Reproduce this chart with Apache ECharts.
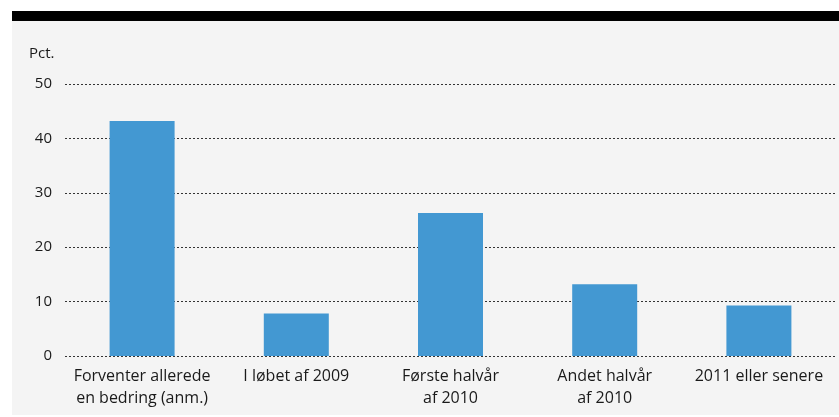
<!DOCTYPE html>
<html>
<head>
<meta charset="utf-8">
<script src="https://cdn.jsdelivr.net/npm/echarts@6/dist/echarts.min.js"></script>
<style>
  html, body { margin: 0; padding: 0; background: #fff; }
  #chart { width: 839px; height: 417px; }
</style>
</head>
<body>
<div id="chart"></div>
<script>
// data
var categories = ['Forventer allerede\nen bedring (anm.)', 'I løbet af 2009', 'Første halvår\naf 2010', 'Andet halvår\naf 2010', '2011 eller senere'];
var values = [43.2, 7.8, 26.3, 13.2, 9.3];
var yTicks = { min: 0, max: 50, interval: 10 };

var font = '"Open Sans", "Noto Sans", sans-serif';
var chart = echarts.init(document.getElementById('chart'));
chart.setOption({
    backgroundColor: '#fff',
    animation: false,
    graphic: [
        { type: 'rect', left: 12, top: 11, shape: { width: 827, height: 404 }, style: { fill: '#f4f4f4' }, z: -10 },
        { type: 'rect', left: 12, top: 11, shape: { width: 827, height: 10 }, style: { fill: '#000' }, z: -9 }
    ],
    title: {
        text: 'Pct.',
        left: 24,
        top: 41,
        textStyle: { fontFamily: font, fontSize: 15, fontWeight: 'normal', color: '#1a1a1a' }
    },
    grid: { left: 65, right: 3, top: 84, bottom: 61 },
    xAxis: {
        type: 'category',
        data: categories,
        axisLine: { show: false },
        axisTick: { show: false },
        axisLabel: {
            margin: 9,
            interval: 0,
            fontFamily: font,
            fontSize: 16,
            lineHeight: 22,
            color: '#1a1a1a'
        }
    },
    yAxis: {
        type: 'value',
        min: yTicks.min,
        max: yTicks.max,
        interval: yTicks.interval,
        axisLine: { show: false },
        axisTick: { show: false },
        axisLabel: { margin: 13, fontFamily: font, fontSize: 15, color: '#1a1a1a' },
        splitLine: { lineStyle: { type: [2, 2], color: '#333', width: 1 } }
    },
    series: [{
        type: 'bar',
        data: values,
        barWidth: 65,
        itemStyle: { color: '#4398d2' }
    }]
});
</script>
</body>
</html>
